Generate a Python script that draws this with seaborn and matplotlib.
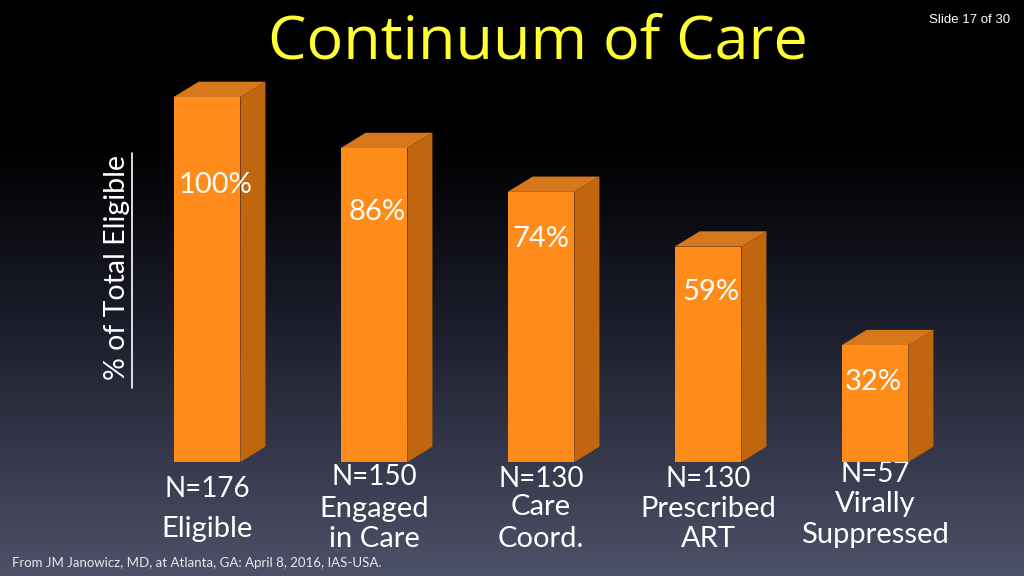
import numpy as np
import matplotlib
matplotlib.use("Agg")
import matplotlib.pyplot as plt
import seaborn as sns
from matplotlib.patches import Polygon

# data
stages = [["Eligible"], ["Engaged", "in Care"], ["Care", "Coord."],
          ["Prescribed", "ART"], ["Virally", "Suppressed"]]
n_counts = ["N=176", "N=150", "N=130", "N=130", "N=57"]
pct = [100, 86, 74, 59, 32]
pct_labels = ["100%", "86%", "74%", "59%", "32%"]

# where the text sits on the slide (baselines, in axis units)
label_y = [76, 68.5, 61, 46.5, 22]
label_dx = [0.05, 0.02, 0.0, 0.02, -0.01]
n_base = [-9.6, -6.3, -6.8, -6.8, -5.5]
stage_base = [[-20.5], [-15.1, -23.3], [-14.5, -23.3], [-15.1, -23.3], [-13.7, -22.2]]

FRONT = "#ff8c1a"
SIDE = "#c0660f"
TOP = "#d5771a"

sns.set_style("white")
plt.rcParams["font.family"] = ["Lato", "DejaVu Sans"]

fig = plt.figure(figsize=(10.24, 5.76), dpi=100)

# background gradient black -> slate blue
bg = fig.add_axes([0, 0, 1, 1])
grad = np.linspace(0, 1, 256)[:, None]
cmap = matplotlib.colors.LinearSegmentedColormap.from_list(
    "bg", [(0, "#000000"), (0.25, "#000000"), (0.55, "#1a1c2a"), (1.0, "#4d5168")])
bg.imshow(grad, aspect="auto", cmap=cmap, extent=[0, 1, 0, 1], origin="upper")
bg.axis("off")

ax = fig.add_axes([0.1206, 0.1979, 0.8154, 0.6337])
ax.patch.set_alpha(0)
sns.barplot(x=list(range(len(pct))), y=pct, color=FRONT, saturation=1,
            width=0.4, edgecolor="none", linewidth=0, ax=ax, zorder=3)
ax.set_xlim(-0.5, 4.5)
ax.set_ylim(0, 100)
ax.axis("off")

# 3D side and top faces built from each bar patch
dx, dy = 0.15, 4.2
for p in ax.patches[:len(pct)]:
    x0, w, h = p.get_x(), p.get_width(), p.get_height()
    x1 = x0 + w
    side = Polygon([(x1, 0), (x1 + dx, dy), (x1 + dx, h + dy), (x1, h)],
                   closed=True, fc=SIDE, ec="none", clip_on=False, zorder=2)
    top = Polygon([(x0, h), (x0 + dx, h + dy), (x1 + dx, h + dy), (x1, h)],
                  closed=True, fc=TOP, ec="none", clip_on=False, zorder=2)
    ax.add_patch(side)
    ax.add_patch(top)

for i, (lab, y) in enumerate(zip(pct_labels, label_y)):
    ax.text(i + label_dx[i], y, lab, color="white", fontsize=21,
            ha="center", va="center", zorder=5)

for i in range(len(pct)):
    ax.text(i, n_base[i], n_counts[i], color="white", fontsize=20,
            ha="center", va="baseline", clip_on=False, zorder=1)
    for line, yb in zip(stages[i], stage_base[i]):
        ax.text(i, yb, line, color="white", fontsize=21,
                ha="center", va="baseline", clip_on=False, zorder=1)

fig.text(0.525, 0.927, "Continuum of Care", color="#ffff33", fontsize=44,
         ha="center", va="center", family=["Open Sans", "DejaVu Sans"])
fig.text(0.9465, 0.965, "Slide 17 of 30", color="white", fontsize=9.5,
         ha="center", va="center", family=["Liberation Sans", "DejaVu Sans"])
fig.text(0.114, 0.535, "% of Total Eligible", color="white", fontsize=20.5,
         rotation=90, ha="center", va="center")
fig.add_artist(plt.Line2D([0.129, 0.129], [0.326, 0.734], color="white",
                          lw=1.2, transform=fig.transFigure))
fig.text(0.012, 0.022, "From JM Janowicz, MD, at Atlanta, GA: April 8, 2016, IAS-USA.",
         color="#e8e8ee", fontsize=9.5, ha="left", va="center")

fig.savefig("out.png", dpi=100, facecolor="black")
